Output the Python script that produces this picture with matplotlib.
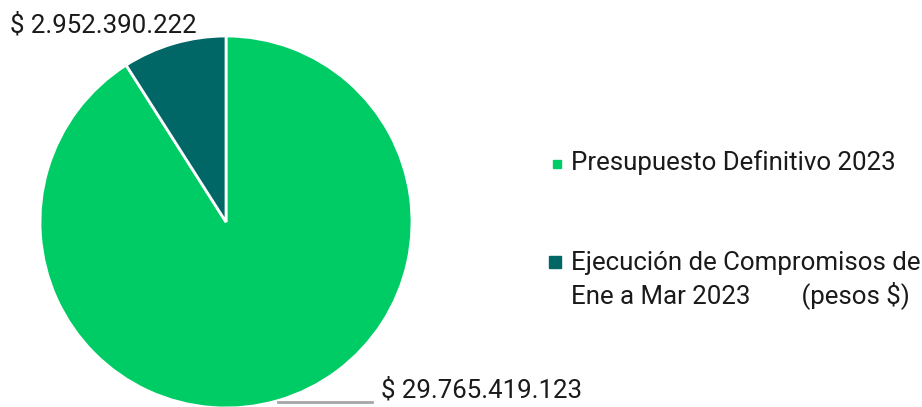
import matplotlib
matplotlib.use("Agg")
import matplotlib.pyplot as plt
from matplotlib.patches import Rectangle

categories = ["Presupuesto Definitivo 2023",
              "Ejecución de Compromisos de\nEne a Mar 2023        (pesos $)"]
values = [29765419123, 2952390222]
value_labels = ["$ 29.765.419.123", "$ 2.952.390.222"]
colors = ["#00CC66", "#006666"]

plt.rcParams['font.family'] = ['Roboto', 'DejaVu Sans']

W, H = 922, 407
fig = plt.figure(figsize=(W / 100, H / 100), dpi=100)
cx, cy, r = 226, 222, 186
ax = fig.add_axes([(cx - r) / W, (H - cy - r) / H, 2 * r / W, 2 * r / H])
ax.pie(values, colors=colors, startangle=90, counterclock=False,
       wedgeprops=dict(edgecolor="white", linewidth=2))
ax.set_xlim(-1, 1)
ax.set_ylim(-1, 1)
ax.set_aspect("auto")
ax.axis("off")

fs = 18.6
txt = "#1a1a1a"
# data labels
fig.text(10 / W, 1 - 25 / H, value_labels[1], fontsize=fs, color=txt,
         ha="left", va="center")
fig.text(381 / W, 1 - 390 / H, value_labels[0], fontsize=fs, color=txt,
         ha="left", va="center")
fig.add_artist(plt.Line2D([278 / W, 372 / W], [1 - 402 / H, 1 - 402 / H],
                          color="#A6A6A6", linewidth=2, transform=fig.transFigure))

# legend
fig.patches.append(Rectangle((553 / W, 1 - 168 / H), 8 / W, 8 / H,
                             transform=fig.transFigure, color=colors[0]))
fig.text(571 / W, 1 - 163 / H, categories[0], fontsize=fs, color=txt,
         ha="left", va="center")
fig.patches.append(Rectangle((549 / W, 1 - 268 / H), 12 / W, 12 / H,
                             transform=fig.transFigure, color=colors[1]))
fig.text(571 / W, 1 - 280 / H, categories[1], fontsize=fs, color=txt,
         ha="left", va="center", linespacing=1.25)

fig.savefig("out.png", dpi=100)
